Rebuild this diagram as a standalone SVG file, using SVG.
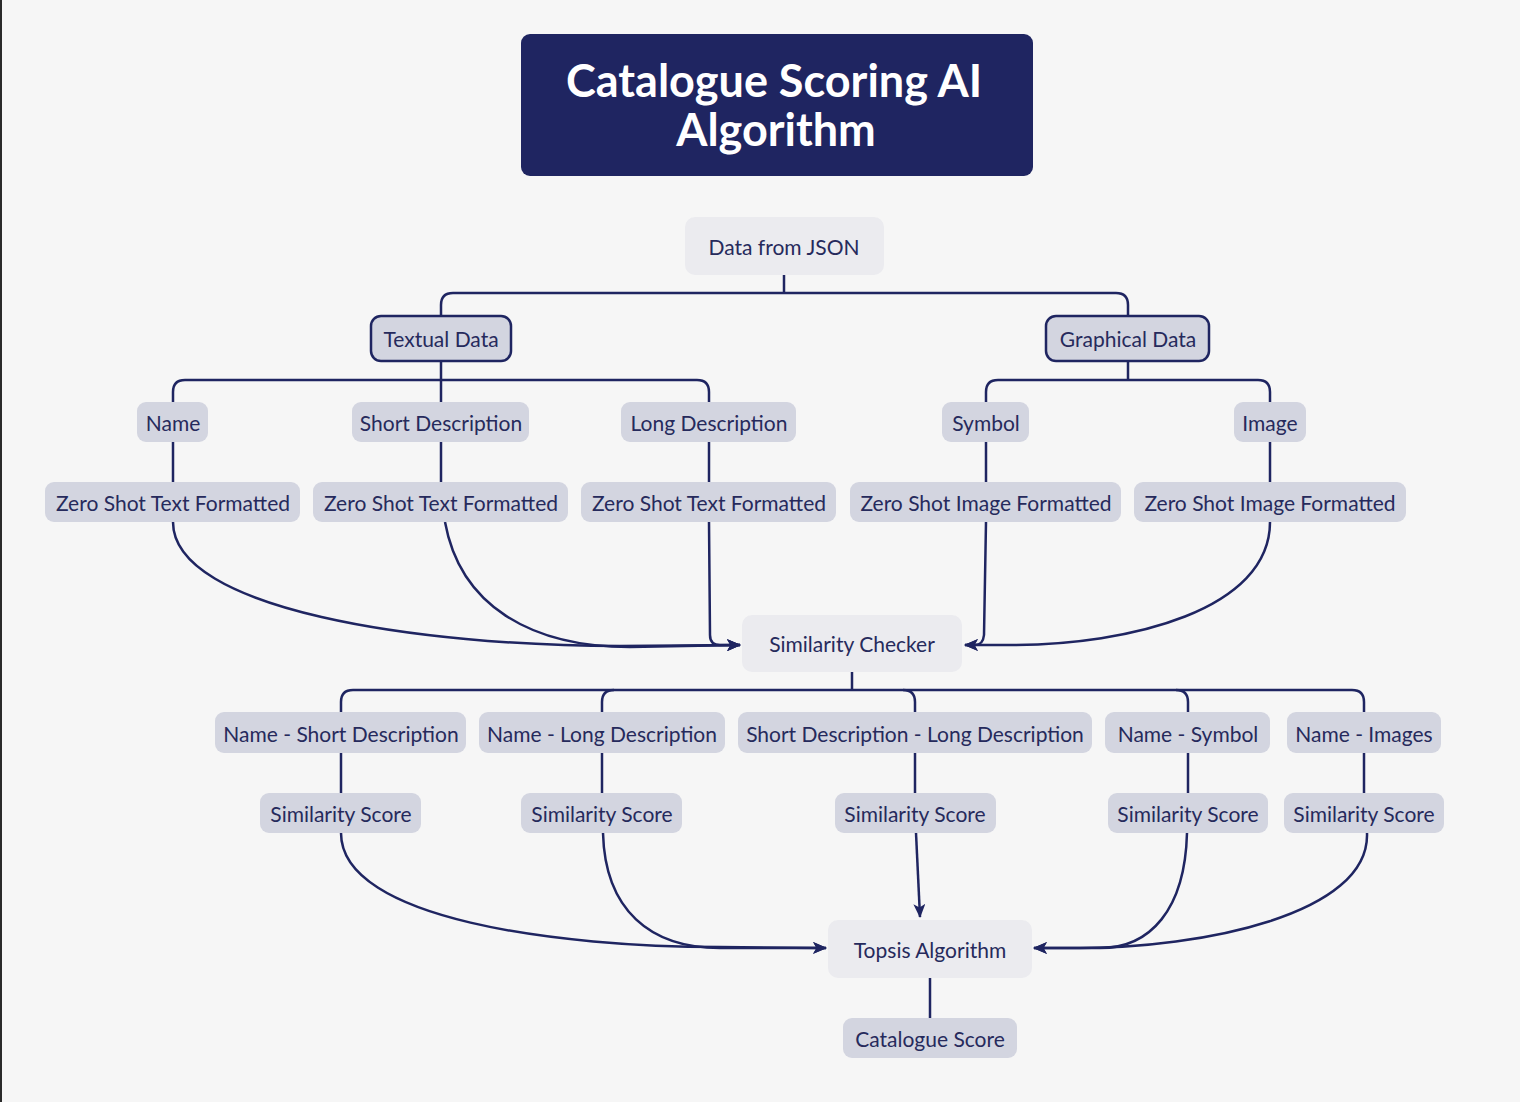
<svg xmlns="http://www.w3.org/2000/svg" width="1520" height="1102" viewBox="0 0 1520 1102">
<defs>
<style>
.bg{fill:#f6f6f6}
.t{font-family:Lato,"Open Sans",sans-serif;font-size:21px;fill:#262a5c;text-anchor:middle;dominant-baseline:central}
.tt{font-family:Lato,"Open Sans",sans-serif;font-size:45px;font-weight:bold;fill:#ffffff;text-anchor:middle;dominant-baseline:central}
.lt{fill:#ebebef}
.md{fill:#d3d5e0}
.sel{fill:#d3d5e0;stroke:#1f2561;stroke-width:2.5}
.c{fill:none;stroke:#1f2561;stroke-width:2.5}
</style>
<marker id="ah" viewBox="0 0 14 12" refX="13" refY="6" markerWidth="14" markerHeight="12" markerUnits="userSpaceOnUse" orient="auto">
<path d="M0,0 L14,6 L0,12 L3.5,6 Z" fill="#1f2561"/>
</marker>
</defs>
<rect class="bg" x="0" y="0" width="1520" height="1102"/>
<rect x="0" y="0" width="2" height="1102" fill="#2a2a2a"/>

<g id="connectors">
<path class="c" d="M784,275 L784,293"/>
<path class="c" d="M441,316 L441,305 Q441,293 453,293 L1116,293 Q1128,293 1128,305 L1128,316"/>
<path class="c" d="M441,361 L441,402"/>
<path class="c" d="M173,402 L173,392 Q173,380 185,380 L697,380 Q709,380 709,392 L709,402"/>
<path class="c" d="M1128,361 L1128,380"/>
<path class="c" d="M986,402 L986,392 Q986,380 998,380 L1258,380 Q1270,380 1270,392 L1270,402"/>
<path class="c" d="M173,442 L173,482"/>
<path class="c" d="M441,442 L441,482"/>
<path class="c" d="M709,442 L709,482"/>
<path class="c" d="M986,442 L986,482"/>
<path class="c" d="M1270,442 L1270,482"/>
<path class="c" marker-end="url(#ah)" d="M173,522 C173,610 420,646 620,646 L740,645"/>
<path class="c" marker-end="url(#ah)" d="M445,522 C460,605 530,647 630,647 L740,645"/>
<path class="c" marker-end="url(#ah)" d="M709,522 L710,635 Q710,645 720,645 L740,645"/>
<path class="c" marker-end="url(#ah)" d="M986,522 L984,635 Q983,645 975,645 L965,645"/>
<path class="c" marker-end="url(#ah)" d="M1270,522 C1270,610 1130,645 1010,645 L965,645"/>
<path class="c" d="M852,672 L852,690"/>
<path class="c" d="M341,712 L341,702 Q341,690 353,690 L1352,690 Q1364,690 1364,702 L1364,712"/>
<path class="c" d="M602,712 L602,702 Q602,690 614,690"/>
<path class="c" d="M903,690 Q915,690 915,702 L915,712"/>
<path class="c" d="M1176,690 Q1188,690 1188,702 L1188,712"/>
<path class="c" d="M341,753 L341,793"/>
<path class="c" d="M602,753 L602,793"/>
<path class="c" d="M915,753 L915,793"/>
<path class="c" d="M1188,753 L1188,793"/>
<path class="c" d="M1364,753 L1364,793"/>
<path class="c" marker-end="url(#ah)" d="M341,833 C341,920 560,947 720,947 L826,948"/>
<path class="c" marker-end="url(#ah)" d="M603,833 C605,910 650,948 720,948 L826,948"/>
<path class="c" marker-end="url(#ah)" d="M916,833 L920,917"/>
<path class="c" marker-end="url(#ah)" d="M1187,833 C1185,910 1150,948 1100,948 L1034,948"/>
<path class="c" marker-end="url(#ah)" d="M1367,833 C1370,915 1200,948 1080,948 L1034,948"/>
<path class="c" d="M930,978 L930,1018"/>
</g>

<g id="title">
<rect x="521" y="34" width="512" height="142" rx="9" fill="#1f2561"/>
<text class="tt" x="774" y="80">Catalogue Scoring AI</text>
<text class="tt" x="776" y="129">Algorithm</text>
</g>

<g id="n-json"><rect class="lt" x="685" y="217" width="199" height="58" rx="10"/><text class="t" x="784" y="246">Data from JSON</text></g>
<g id="n-textual"><rect class="sel" x="371" y="316" width="140" height="45" rx="10"/><text class="t" x="441" y="338">Textual Data</text></g>
<g id="n-graphical"><rect class="sel" x="1046" y="316" width="163" height="45" rx="10"/><text class="t" x="1128" y="338">Graphical Data</text></g>

<g id="n-name"><rect class="md" x="137" y="402" width="71" height="40" rx="9"/><text class="t" x="173" y="422">Name</text></g>
<g id="n-short"><rect class="md" x="352" y="402" width="177" height="40" rx="9"/><text class="t" x="441" y="422">Short Description</text></g>
<g id="n-long"><rect class="md" x="621" y="402" width="175" height="40" rx="9"/><text class="t" x="709" y="422">Long Description</text></g>
<g id="n-symbol"><rect class="md" x="942" y="402" width="87" height="40" rx="9"/><text class="t" x="986" y="422">Symbol</text></g>
<g id="n-image"><rect class="md" x="1234" y="402" width="72" height="40" rx="9"/><text class="t" x="1270" y="422">Image</text></g>

<g id="n-zs1"><rect class="md" x="45" y="482" width="255" height="40" rx="9"/><text class="t" x="173" y="502">Zero Shot Text Formatted</text></g>
<g id="n-zs2"><rect class="md" x="313" y="482" width="255" height="40" rx="9"/><text class="t" x="441" y="502">Zero Shot Text Formatted</text></g>
<g id="n-zs3"><rect class="md" x="581" y="482" width="255" height="40" rx="9"/><text class="t" x="709" y="502">Zero Shot Text Formatted</text></g>
<g id="n-zs4"><rect class="md" x="850" y="482" width="271" height="40" rx="9"/><text class="t" x="986" y="502">Zero Shot Image Formatted</text></g>
<g id="n-zs5"><rect class="md" x="1134" y="482" width="272" height="40" rx="9"/><text class="t" x="1270" y="502">Zero Shot Image Formatted</text></g>

<g id="n-checker"><rect class="lt" x="742" y="615" width="220" height="57" rx="10"/><text class="t" x="852" y="643">Similarity Checker</text></g>

<g id="n-p1"><rect class="md" x="215" y="712" width="251" height="41" rx="9"/><text class="t" x="341" y="733">Name - Short Description</text></g>
<g id="n-p2"><rect class="md" x="479" y="712" width="246" height="41" rx="9"/><text class="t" x="602" y="733">Name - Long Description</text></g>
<g id="n-p3"><rect class="md" x="738" y="712" width="354" height="41" rx="9"/><text class="t" x="915" y="733">Short Description - Long Description</text></g>
<g id="n-p4"><rect class="md" x="1105" y="712" width="165" height="41" rx="9"/><text class="t" x="1188" y="733">Name - Symbol</text></g>
<g id="n-p5"><rect class="md" x="1287" y="712" width="154" height="41" rx="9"/><text class="t" x="1364" y="733">Name - Images</text></g>

<g id="n-s1"><rect class="md" x="260" y="793" width="161" height="40" rx="9"/><text class="t" x="341" y="813">Similarity Score</text></g>
<g id="n-s2"><rect class="md" x="521" y="793" width="161" height="40" rx="9"/><text class="t" x="602" y="813">Similarity Score</text></g>
<g id="n-s3"><rect class="md" x="835" y="793" width="161" height="40" rx="9"/><text class="t" x="915" y="813">Similarity Score</text></g>
<g id="n-s4"><rect class="md" x="1108" y="793" width="160" height="40" rx="9"/><text class="t" x="1188" y="813">Similarity Score</text></g>
<g id="n-s5"><rect class="md" x="1284" y="793" width="160" height="40" rx="9"/><text class="t" x="1364" y="813">Similarity Score</text></g>

<g id="n-topsis"><rect class="lt" x="828" y="920" width="204" height="58" rx="10"/><text class="t" x="930" y="949">Topsis Algorithm</text></g>
<g id="n-catscore"><rect class="md" x="843" y="1018" width="174" height="40" rx="9"/><text class="t" x="930" y="1038">Catalogue Score</text></g>
</svg>
